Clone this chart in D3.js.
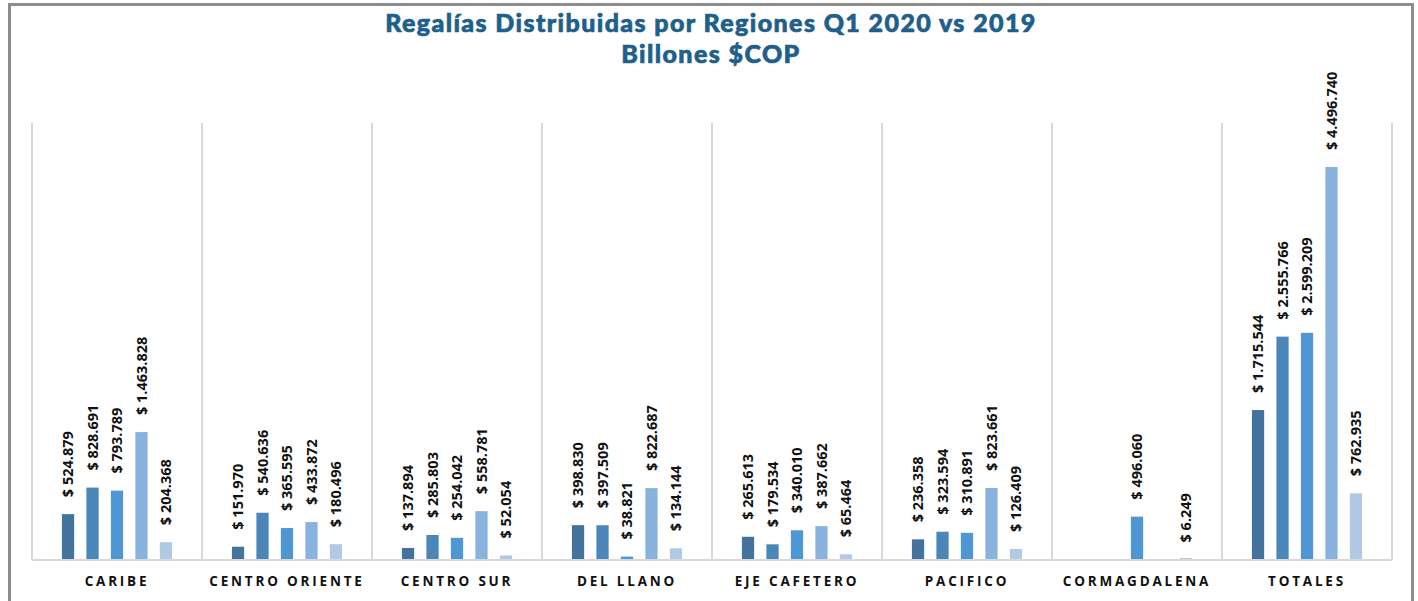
<!DOCTYPE html>
<html>
<head>
<meta charset="utf-8">
<script src="https://cdn.jsdelivr.net/npm/d3@7"></script>
<style>
  body { margin: 0; background: #fff; }
  svg { display: block; }
</style>
</head>
<body>
<svg id="chart" width="1418" height="601"></svg>
<script>
// Regalías por región (miles de millones), cinco series por grupo
const categories = ["CARIBE", "CENTRO ORIENTE", "CENTRO SUR", "DEL LLANO", "EJE CAFETERO", "PACIFICO", "CORMAGDALENA", "TOTALES"];
const serie1 = [524879, 151970, 137894, 398830, 265613, 236358, null, 1715544];
const serie2 = [828691, 540636, 285803, 397509, 179534, 323594, null, 2555766];
const serie3 = [793789, 365595, 254042, 38821, 340010, 310891, 496060, 2599209];
const serie4 = [1463828, 433872, 558781, 822687, 387662, 823661, null, 4496740];
const serie5 = [204368, 180496, 52054, 134144, 65464, 126409, 6249, 762935];
const seriesColors = ["#44749e", "#4a86b8", "#4f97d3", "#89b3de", "#b0c9e5"];
const titleLines = ["Regalías Distribuidas por Regiones Q1 2020 vs 2019", "Billones $COP"];

function drawBarChart(chart_id = "#chart") {
  const svg = d3.select(chart_id);
  const series = [serie1, serie2, serie3, serie4, serie5];

  const margin = { top: 123, left: 32, right: 26, bottom: 41 };
  const width = 1418 - margin.left - margin.right;
  const height = 601 - margin.top - margin.bottom;

  // outer frame
  svg.append("rect")
    .attr("x", 9.5).attr("y", 4.5)
    .attr("width", 1403).attr("height", 620)
    .attr("fill", "none")
    .attr("stroke", "#8c8c8c")
    .attr("stroke-width", 3);

  // title, one text per line
  svg.selectAll(".title")
    .data(titleLines)
    .join("text")
    .attr("class", "title")
    .attr("x", 711)
    .attr("y", (d, i) => 32 + i * 31)
    .attr("text-anchor", "middle")
    .attr("fill", "#1f5f8b")
    .attr("stroke", "#1f5f8b")
    .attr("stroke-width", 0.7)
    .style("font-family", "Lato, sans-serif")
    .style("font-weight", "900")
    .style("font-size", "25px")
    .style("letter-spacing", "1.4px")
    .text(d => d);

  const g = svg.append("g")
    .attr("transform", "translate(" + margin.left + "," + margin.top + ")");

  const x0 = d3.scaleBand()
    .domain(categories)
    .range([0, width])
    .padding(0);

  const x1 = d3.scaleBand()
    .domain(d3.range(series.length))
    .range([x0.bandwidth() * 0.14, x0.bandwidth() * 0.86])
    .paddingInner(0.5)
    .paddingOuter(0.25);

  const yScale = d3.scaleLinear()
    .domain([0, 5000000])
    .range([height, 0]);

  // vertical separators
  g.selectAll(".sep")
    .data(d3.range(categories.length + 1))
    .join("line")
    .attr("x1", i => i * x0.step())
    .attr("x2", i => i * x0.step())
    .attr("y1", 0)
    .attr("y2", height)
    .attr("stroke", "#d9d9d9")
    .attr("stroke-width", 2);

  const fmt = v => "$ " + d3.format(",")(v).replace(/,/g, ".");

  const groups = g.selectAll(".grp")
    .data(categories)
    .join("g")
    .attr("transform", d => "translate(" + x0(d) + ",0)");

  groups.each(function (cat, ci) {
    const items = series.map((s, si) => ({ si: si, v: s[ci] })).filter(d => d.v != null);
    const grp = d3.select(this);

    grp.selectAll("rect")
      .data(items)
      .join("rect")
      .attr("x", d => x1(d.si))
      .attr("y", d => Math.min(yScale(d.v), height - 2))
      .attr("width", x1.bandwidth())
      .attr("height", d => Math.max(height - yScale(d.v), 2))
      .attr("fill", d => seriesColors[d.si]);

    grp.selectAll("text")
      .data(items)
      .join("text")
      .attr("transform", d => "translate(" + (x1(d.si) + x1.bandwidth() / 2) + "," + (yScale(d.v) - 17) + ") rotate(-90)")
      .attr("dy", "0.36em")
      .attr("text-anchor", "start")
      .attr("fill", "#111")
      .style("font-family", "'Open Sans', sans-serif")
      .style("font-weight", "700")
      .style("font-size", "14.5px")
      .text(d => fmt(d.v));
  });

  // baseline
  g.append("line")
    .attr("x1", 0).attr("x2", width)
    .attr("y1", height).attr("y2", height)
    .attr("stroke", "#d9d9d9")
    .attr("stroke-width", 2);

  // category labels
  g.selectAll(".cat")
    .data(categories)
    .join("text")
    .attr("x", d => x0(d) + x0.bandwidth() / 2)
    .attr("y", height + 26)
    .attr("text-anchor", "middle")
    .attr("fill", "#111")
    .style("font-family", "'Open Sans', sans-serif")
    .style("font-weight", "700")
    .style("font-size", "13.5px")
    .style("letter-spacing", "2.8px")
    .text(d => d);
}

drawBarChart();
</script>
</body>
</html>
